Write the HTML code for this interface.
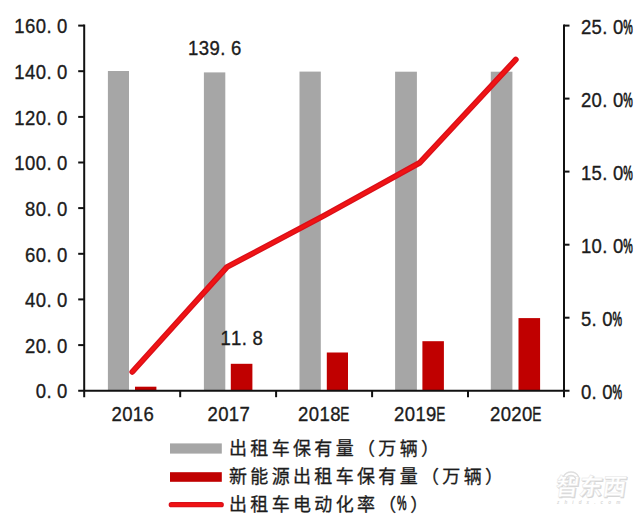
<!DOCTYPE html>
<html lang="zh">
<head>
<meta charset="utf-8">
<title>出租车保有量与电动化率</title>
<style>
html,body{margin:0;padding:0;background:#fff;}
body{width:640px;height:517px;overflow:hidden;font-family:"Liberation Sans",sans-serif;}
svg{display:block;}
</style>
</head>
<body>
<svg width="640" height="517" viewBox="0 0 640 517">
<rect width="640" height="517" fill="#ffffff"/>
<g fill="#a6a6a6">
<rect x="107.9" y="71.0" width="21.1" height="319.7"/>
<rect x="203.9" y="72.4" width="21.4" height="318.3"/>
<rect x="299.5" y="71.6" width="21.3" height="319.1"/>
<rect x="395.1" y="71.7" width="21.8" height="319.0"/>
<rect x="490.8" y="71.7" width="21.6" height="319.0"/>
</g>
<g fill="#c00000">
<rect x="135.0" y="386.7" width="21.4" height="4.0"/>
<rect x="230.8" y="363.8" width="21.6" height="26.9"/>
<rect x="326.8" y="352.5" width="21.2" height="38.2"/>
<rect x="422.4" y="341.2" width="21.5" height="49.5"/>
<rect x="518.5" y="318.1" width="21.6" height="72.6"/>
</g>
<g stroke="#111" stroke-width="2.0" fill="none" stroke-linecap="butt">
<path d="M84.2 24.6 V397.2"/>
<path d="M564.0 24.6 V397.2"/>
<path d="M78.2 390.7 H569.5"/>
<path d="M78.2 25.6 H84.2"/>
<path d="M78.2 71.2 H84.2"/>
<path d="M78.2 116.9 H84.2"/>
<path d="M78.2 162.5 H84.2"/>
<path d="M78.2 208.1 H84.2"/>
<path d="M78.2 253.8 H84.2"/>
<path d="M78.2 299.4 H84.2"/>
<path d="M78.2 345.1 H84.2"/>
<path d="M564.0 25.6 H569.5"/>
<path d="M564.0 98.6 H569.5"/>
<path d="M564.0 171.6 H569.5"/>
<path d="M564.0 244.7 H569.5"/>
<path d="M564.0 317.7 H569.5"/>
<path d="M180.2 390.7 V397.2"/>
<path d="M276.1 390.7 V397.2"/>
<path d="M372.1 390.7 V397.2"/>
<path d="M468.0 390.7 V397.2"/>
</g>
<g fill="none" stroke-linecap="round" stroke-linejoin="round">
<polyline points="132.3,371.9 227.0,267.0 323.8,215.8 420.0,162.6 515.8,59.6" stroke="#d90f1a" stroke-width="5.8"/>
<polyline points="132.3,371.9 227.0,267.0 323.8,215.8 420.0,162.6 515.8,59.6" stroke="#f01414" stroke-width="3.2"/>
</g>
<g font-family="&quot;Liberation Sans&quot;, sans-serif" font-size="20.6" fill="#1c1c1c" stroke="#1c1c1c" stroke-width="0.35">
<text transform="scale(0.9 1)" x="15.89 27.78 39.67 51.56 63.44" y="33.40">160.0</text>
<text transform="scale(0.9 1)" x="15.89 27.78 39.67 51.56 63.44" y="79.04">140.0</text>
<text transform="scale(0.9 1)" x="15.89 27.78 39.67 51.56 63.44" y="124.67">120.0</text>
<text transform="scale(0.9 1)" x="15.89 27.78 39.67 51.56 63.44" y="170.31">100.0</text>
<text transform="scale(0.9 1)" x="27.78 39.67 51.56 63.44" y="215.95">80.0</text>
<text transform="scale(0.9 1)" x="27.78 39.67 51.56 63.44" y="261.59">60.0</text>
<text transform="scale(0.9 1)" x="27.78 39.67 51.56 63.44" y="307.23">40.0</text>
<text transform="scale(0.9 1)" x="27.78 39.67 51.56 63.44" y="352.86">20.0</text>
<text transform="scale(0.9 1)" x="39.67 51.56 63.44" y="398.50">0.0</text>
<text transform="scale(0.9 1)" x="645.44 657.33 669.22 681.11" y="33.80">25.0</text><text transform="translate(623.30 33.80) scale(0.52 1)" stroke-width="0.8">%</text>
<text transform="scale(0.9 1)" x="645.44 657.33 669.22 681.11" y="106.82">20.0</text><text transform="translate(623.30 106.82) scale(0.52 1)" stroke-width="0.8">%</text>
<text transform="scale(0.9 1)" x="645.44 657.33 669.22 681.11" y="179.84">15.0</text><text transform="translate(623.30 179.84) scale(0.52 1)" stroke-width="0.8">%</text>
<text transform="scale(0.9 1)" x="645.44 657.33 669.22 681.11" y="252.86">10.0</text><text transform="translate(623.30 252.86) scale(0.52 1)" stroke-width="0.8">%</text>
<text transform="scale(0.9 1)" x="645.44 657.33 669.22" y="325.88">5.0</text><text transform="translate(612.60 325.88) scale(0.52 1)" stroke-width="0.8">%</text>
<text transform="scale(0.9 1)" x="645.44 657.33 669.22" y="398.90">0.0</text><text transform="translate(612.60 398.90) scale(0.52 1)" stroke-width="0.8">%</text>
<text transform="scale(0.9 1)" x="209.00 220.89 232.78 244.67 256.56" y="54.60">139.6</text>
<text transform="scale(0.9 1)" x="244.89 256.78 268.67 280.56" y="345.20">11.8</text>
<text transform="scale(0.9 1)" x="123.87 135.76 147.64 159.53" y="421.40">2016</text>
<text transform="scale(0.9 1)" x="230.49 242.38 254.27 266.16" y="421.40">2017</text>
<text transform="scale(0.9 1)" x="331.17 343.06 354.94 366.83" y="421.40">2018</text><text transform="translate(340.25 421.40) scale(0.665 1)">E</text>
<text transform="scale(0.9 1)" x="437.79 449.68 461.57 473.46" y="421.40">2019</text><text transform="translate(436.21 421.40) scale(0.665 1)">E</text>
<text transform="scale(0.9 1)" x="544.41 556.30 568.19 580.08" y="421.40">2020</text><text transform="translate(532.17 421.40) scale(0.665 1)">E</text>
</g>
<rect x="170" y="443.4" width="51.8" height="10.2" fill="#a6a6a6"/>
<rect x="170" y="472.2" width="51.8" height="9.6" fill="#c00000"/>
<path d="M171.3 504.7 H221.2" stroke="#d90f1a" stroke-width="5.3" stroke-linecap="round"/>
<path d="M171.3 504.7 H221.2" stroke="#f01414" stroke-width="2.9" stroke-linecap="round"/>
<g fill="#1c1c1c" stroke="#1c1c1c" stroke-width="0.3" stroke-linejoin="round" font-family="&quot;Liberation Sans&quot;, &quot;Noto Sans CJK SC&quot;, sans-serif" font-size="18">
<text x="229.01 250.34 271.68 293.00 314.33 335.66 356.99 378.32 399.65 420.98" y="454.90">出租车保有量（万辆）</text>
<text x="229.01 250.34 271.68 293.00 314.33 335.66 356.99 378.32 399.65 420.98 442.31 463.64 484.97" y="483.10">新能源出租车保有量（万辆）</text>
<text x="229.01 250.34 271.68 293.00 314.33 335.66 356.99 378.32" y="511.20">出租车电动化率（</text>
<text transform="translate(397.04 510.00) scale(0.52 1)" font-family="&quot;Liberation Sans&quot;, sans-serif" font-size="20.6" stroke-width="0.8">%</text>
<text x="410.32" y="511.20">）</text>
</g>
<g font-family="&quot;Liberation Sans&quot;, &quot;Noto Sans CJK SC&quot;, sans-serif" font-size="23.5" font-weight="bold">
<text transform="translate(555.40 495.90) skewX(-8)" x="0 23.6 47.2" y="0" fill="#d4d4d4" stroke="#d4d4d4" stroke-width="0.47">智东西</text>
<text transform="translate(554.50 495.00) skewX(-8)" x="0 23.6 47.2" y="0" fill="#ffffff" stroke="#e4e4e4" stroke-width="0.47">智东西</text>
</g>
<g fill="none" stroke="#dedede" stroke-width="1.3" stroke-linecap="round"><path d="M563.5 476.5 A8.5 8.5 0 0 1 578.5 476.5"/><path d="M566.3 478.4 A5.2 5.2 0 0 1 575.7 478.4"/></g>
<text x="557" y="503.6" font-family="&quot;Liberation Sans&quot;, sans-serif" font-size="4.6" font-weight="bold" font-style="italic" letter-spacing="5.1" fill="#d8d8d8">zhidx.com</text>
</svg>
</body>
</html>
